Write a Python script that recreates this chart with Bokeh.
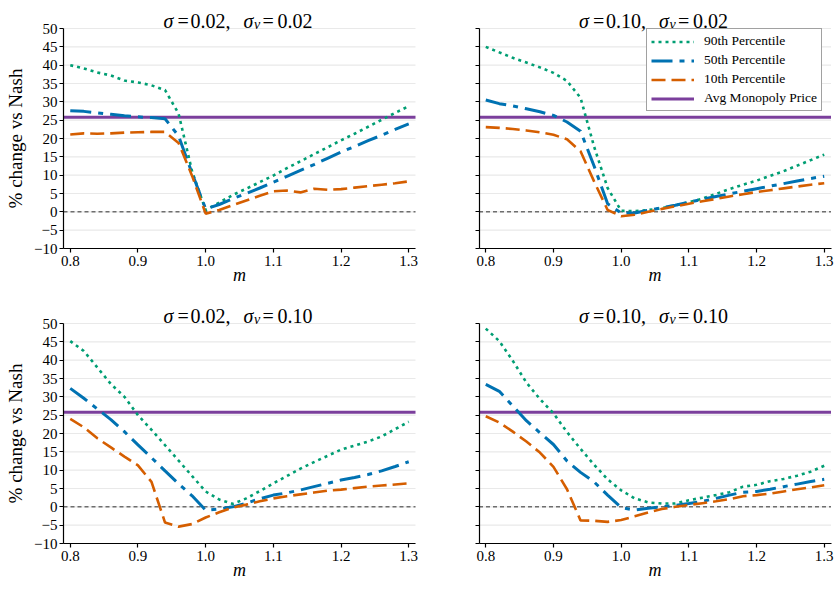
import numpy as np
from bokeh.plotting import figure
from bokeh.models import Label, Legend, LegendItem, FixedTicker
from bokeh.layouts import column, row
from bokeh.embed import file_html
from bokeh.resources import INLINE

# ---------------------------------------------------------------- data
M = [0.80, 0.82, 0.84, 0.86, 0.88, 0.90, 0.92, 0.94, 0.96, 0.98, 1.00,
     1.02, 1.04, 1.06, 1.08, 1.10, 1.12, 1.14, 1.16, 1.18, 1.20, 1.22,
     1.24, 1.26, 1.28, 1.30]

# sigma = 0.02, sigma_v = 0.02
p90_a = [40.0, 39.1, 38.0, 37.2, 35.8, 35.3, 34.5, 33.2, 26.8, 11.0, 0.5,
         2.5, 4.6, 6.3, 8.1, 9.9, 11.9, 13.8, 15.7, 17.6, 19.5, 21.3, 23.2,
         25.1, 27.0, 28.8]
p50_a = [27.6, 27.4, 27.0, 26.6, 26.2, 25.9, 25.7, 25.4, 20.7, 10.5, 0.8,
         2.0, 3.6, 5.0, 6.5, 8.1, 9.7, 11.3, 12.9, 14.6, 16.3, 17.8, 19.4,
         20.9, 22.5, 24.0]
p10_a = [21.1, 21.4, 21.3, 21.4, 21.6, 21.7, 21.8, 21.8, 18.8, 9.8, -0.5,
         0.5, 1.8, 3.1, 4.4, 5.6, 5.8, 5.3, 6.3, 6.0, 6.2, 6.6, 7.0, 7.4,
         7.8, 8.3]

# sigma = 0.10, sigma_v = 0.02
p90_b = [45.0, 43.5, 42.0, 40.7, 39.4, 37.9, 35.7, 31.1, 17.8, 6.5, 0.3,
         0.2, 0.5, 1.0, 1.8, 2.6, 3.6, 4.9, 6.2, 7.4, 8.5, 9.8, 11.1, 12.6,
         14.1, 15.6]
p50_b = [30.5, 29.5, 28.9, 28.1, 27.3, 26.3, 24.5, 22.0, 12.5, 2.2, -0.3,
         -0.3, 0.4, 1.1, 1.8, 2.6, 3.4, 4.2, 4.9, 5.6, 6.3, 7.0, 7.7, 8.4,
         9.1, 9.7]
p10_b = [23.1, 22.9, 22.6, 22.2, 21.7, 21.0, 19.8, 16.5, 8.3, 0.5, -1.2,
         -0.8, 0.0, 0.8, 1.5, 2.2, 2.9, 3.5, 4.2, 4.8, 5.4, 5.9, 6.4, 6.9,
         7.4, 7.8]

# sigma = 0.02, sigma_v = 0.10
p90_c = [45.2, 42.5, 38.0, 33.5, 30.0, 25.0, 21.0, 16.8, 12.6, 8.4, 4.2,
         2.0, 0.8, 2.3, 4.3, 6.4, 8.4, 10.4, 12.2, 13.9, 15.6, 16.7, 17.8,
         19.2, 21.2, 23.2]
p50_c = [32.3, 29.6, 26.7, 23.8, 20.5, 16.9, 13.4, 9.8, 6.3, 3.0, -0.9,
         -0.6, 0.0, 1.0, 2.2, 3.2, 3.8, 4.6, 5.5, 6.4, 7.3, 8.0, 8.8, 9.8,
         11.0, 12.3]
p10_c = [24.0, 21.7, 18.7, 16.2, 13.7, 11.3, 6.8, -4.3, -5.4, -4.7, -2.9,
         -1.5, -0.2, 0.6, 1.5, 2.3, 2.9, 3.4, 3.9, 4.4, 4.7, 5.1, 5.5, 5.8,
         6.1, 6.4]

# sigma = 0.10, sigma_v = 0.10
p90_d = [48.6, 45.2, 39.8, 33.9, 29.4, 25.5, 20.4, 15.8, 11.5, 7.5, 4.5,
         2.3, 1.2, 0.9, 0.9, 1.8, 2.5, 3.2, 4.0, 5.5, 6.0, 7.0, 7.6, 8.5,
         9.6, 11.2]
p50_d = [33.4, 31.5, 27.5, 23.5, 20.2, 17.0, 12.5, 9.4, 6.8, 3.2, -0.2,
         -0.9, -0.4, 0.0, 0.4, 0.9, 1.5, 2.3, 3.2, 4.0, 4.2, 4.8, 5.5, 6.2,
         6.9, 7.5]
p10_d = [24.7, 23.0, 20.5, 17.8, 14.8, 10.9, 4.8, -3.7, -3.8, -4.1, -3.6,
         -2.6, -1.5, -0.6, 0.0, 0.5, 1.0, 1.5, 2.1, 2.9, 3.2, 3.6, 4.2, 4.8,
         5.3, 5.9]

AVG_MONOPOLY = 25.8

SIGMA_LABELS = ["0.02", "0.10", "0.02", "0.10"]
SIGMA_V_LABELS = ["0.02", "0.02", "0.10", "0.10"]

X_LIM = (0.79, 1.31)
Y_LIM = (-10, 50)
X_TICKS = [0.8, 0.9, 1.0, 1.1, 1.2, 1.3]
X_TICK_LABELS = ["0.8", "0.9", "1.0", "1.1", "1.2", "1.3"]
Y_TICKS = [-10, -5, 0, 5, 10, 15, 20, 25, 30, 35, 40, 45, 50]
Y_TICK_LABELS = ["\u221210", "\u22125", "0", "5", "10", "15", "20", "25",
                 "30", "35", "40", "45", "50"]

SERIES_NAMES = ["90th Percentile", "50th Percentile", "10th Percentile"]
MONO_NAME = "Avg Monopoly Price"

# ---------------------------------------------------------------- style
SERIF = "Liberation Serif"
GREEN, BLUE, ORANGE, PURPLE = "#009E73", "#0072B2", "#D55E00", "#7b3f9c"
SERIES_STYLE = [
    dict(color=GREEN, line_width=2.6, line_dash="3 4"),
    dict(color=BLUE, line_width=3.0, line_dash="21 7 5 7"),
    dict(color=ORANGE, line_width=2.6, line_dash="14 6"),
]
# plotting box inside each canvas (pixels)
BOX_W, BOX_H = 352, 220
PX_X = BOX_W / (X_LIM[1] - X_LIM[0])
PX_Y = BOX_H / (Y_LIM[1] - Y_LIM[0])
TITLE_SIZE, SUB_SIZE = "20px", "14px"


def make_panel(idx, p90, p50, p10, width, height, left, top,
               show_ylabels, with_legend):
    """One panel; the whole canvas is the frame and the axes sit at the
    lower-left corner of a 352x220 plotting box placed at (left, top)."""
    bottom_gap = height - top - BOX_H
    xr = (X_LIM[0] - left / PX_X, X_LIM[0] + (width - left) / PX_X)
    yr = (Y_LIM[0] - bottom_gap / PX_Y, Y_LIM[1] + top / PX_Y)
    p = figure(width=width, height=height, x_range=xr, y_range=yr,
               output_backend="svg", toolbar_location=None, title=None,
               min_border=0)
    p.outline_line_color = None
    p.background_fill_color = "white"
    p.border_fill_color = "white"
    p.xgrid.visible = False
    p.ygrid.visible = False

    # horizontal grid lines inside the plotting box
    p.segment(x0=[X_LIM[0]] * len(Y_TICKS), x1=[X_LIM[1]] * len(Y_TICKS),
              y0=Y_TICKS, y1=Y_TICKS, line_color="#e9e9e9", line_width=1.2)

    for ax in (p.xaxis[0], p.yaxis[0]):
        ax.axis_line_color = "black"
        ax.axis_line_width = 1.2
        ax.major_tick_line_color = "black"
        ax.major_tick_line_width = 1.2
        ax.major_tick_in = 0
        ax.major_tick_out = 4
        ax.minor_tick_line_color = None
        ax.major_label_text_font = SERIF
        ax.major_label_text_font_size = "15px"
        ax.major_label_text_color = "black"

    p.xaxis.fixed_location = Y_LIM[0]
    p.xaxis.bounds = X_LIM
    p.xaxis.ticker = FixedTicker(ticks=X_TICKS)
    p.xaxis.major_label_overrides = dict(zip(X_TICKS, X_TICK_LABELS))
    p.xaxis.major_label_standoff = 3

    p.yaxis.fixed_location = X_LIM[0]
    p.yaxis.bounds = Y_LIM
    p.yaxis.ticker = FixedTicker(ticks=Y_TICKS)
    if show_ylabels:
        p.yaxis.major_label_overrides = dict(zip(Y_TICKS, Y_TICK_LABELS))
    else:
        p.yaxis.major_label_overrides = {t: "" for t in Y_TICKS}
    p.yaxis.major_label_standoff = 2

    # reference lines
    p.line(x=list(X_LIM), y=[0, 0], line_color="#6e6e6e", line_width=1.5,
           line_dash="4 3")
    mono = p.line(x=list(X_LIM), y=[AVG_MONOPOLY, AVG_MONOPOLY],
                  line_color=PURPLE, line_width=3)

    rends = []
    for vals, st in zip((p90, p50, p10), SERIES_STYLE):
        rends.append(p.line(x=M, y=vals, line_cap="butt", **st))

    if with_legend:
        items = [LegendItem(label=n, renderers=[r])
                 for n, r in zip(SERIES_NAMES, rends)]
        items.append(LegendItem(label=MONO_NAME, renderers=[mono]))
        legend = Legend(items=items, location=(226, height - 111), margin=0,
                        padding=4, spacing=3, glyph_width=43,
                        glyph_height=15, label_height=15, label_standoff=10,
                        label_text_font=SERIF, label_text_font_size="13.5px",
                        label_text_color="black",
                        border_line_color="#444444", border_line_width=1,
                        background_fill_color="white",
                        background_fill_alpha=1.0)
        p.add_layout(legend)

    # title: sigma = .., sigma_nu = ..
    base = height - (top - 7.5)
    pieces = [
        ("\u03c3", 100, "italic", TITLE_SIZE, 0),
        ("=", 114, "normal", TITLE_SIZE, 0),
        (SIGMA_LABELS[idx] + ",", 127, "normal", TITLE_SIZE, 0),
        ("\u03c3", 180, "italic", TITLE_SIZE, 0),
        ("\u03bd", 190.5, "italic", SUB_SIZE, -3),
        ("=", 199, "normal", TITLE_SIZE, 0),
        (SIGMA_V_LABELS[idx], 214, "normal", TITLE_SIZE, 0),
    ]
    for txt, x, style, size, dy in pieces:
        p.add_layout(Label(x=left + x, y=base + dy, x_units="screen",
                           y_units="screen", text=txt, text_font=SERIF,
                           text_font_style=style, text_font_size=size,
                           text_align="left", text_baseline="alphabetic",
                           text_color="black"))

    # axis titles
    p.add_layout(Label(x=left + BOX_W / 2, y=bottom_gap - 26,
                       x_units="screen", y_units="screen", text="m",
                       text_font=SERIF, text_font_style="italic",
                       text_font_size="18px", text_align="center",
                       text_baseline="middle", text_color="black"))
    if show_ylabels:
        p.add_layout(Label(x=left - 48.5, y=bottom_gap + BOX_H / 2,
                           x_units="screen", y_units="screen",
                           text="% change vs Nash", angle=np.pi / 2,
                           text_font=SERIF, text_font_size="19px",
                           text_align="center", text_baseline="middle",
                           text_color="black"))
    return p


pa = make_panel(0, p90_a, p50_a, p10_a, 420, 290, 63, 28, True, False)
pb = make_panel(1, p90_b, p50_b, p10_b, 419, 290, 58.5, 28, False, True)
pc = make_panel(2, p90_c, p50_c, p10_c, 420, 299, 63, 33, True, False)
pd_ = make_panel(3, p90_d, p50_d, p10_d, 419, 299, 58.5, 33, False, False)

layout = column(row(pa, pb), row(pc, pd_))
open("out.html", "w").write(file_html(layout, INLINE))
